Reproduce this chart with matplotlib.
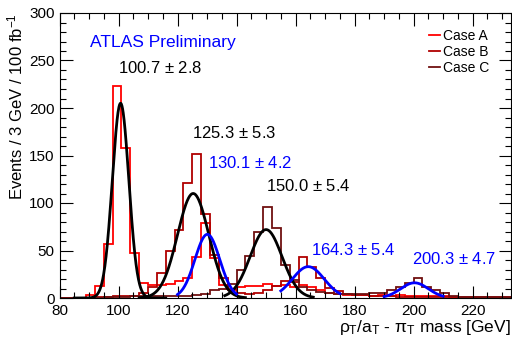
import numpy as np
import matplotlib
matplotlib.use("Agg")
import matplotlib.pyplot as plt
from matplotlib.ticker import MultipleLocator

plt.rcParams['font.family'] = ['Liberation Sans', 'DejaVu Sans']
plt.rcParams['mathtext.fontset'] = 'custom'
plt.rcParams['mathtext.rm'] = 'Liberation Sans'
plt.rcParams['mathtext.it'] = 'Liberation Sans'

# Histogram binning: 3 GeV bins from 80 to 233
bin_edges = np.arange(80, 234, 3)

case_a = [0, 0, 0, 3, 13, 57, 223, 158, 47, 16, 14, 14, 15, 18, 21, 43, 79, 42, 14, 8,
          12, 13, 13, 15, 13, 14, 12, 14, 12, 8, 5, 4, 3, 3, 3, 2, 3, 2, 3, 2,
          2, 2, 2, 2, 1, 1, 1, 1, 1, 1, 1]
case_b = [0, 0, 0, 0, 1, 1, 2, 2, 2, 5, 12, 26, 49, 72, 121, 152, 88, 45, 21, 10,
          5, 4, 5, 8, 13, 18, 17, 43, 33, 21, 11, 7, 4, 3, 3, 2, 2, 2, 1, 1,
          1, 1, 1, 1, 1, 0, 0, 0, 0, 0, 0]
case_c = [0, 0, 0, 0, 0, 1, 1, 1, 2, 2, 2, 2, 2, 2, 2, 3, 4, 8, 10, 15,
          30, 44, 70, 96, 74, 35, 19, 12, 8, 6, 5, 4, 4, 4, 4, 5, 5, 8, 12, 16,
          21, 12, 8, 5, 2, 1, 1, 1, 1, 1, 1]

labels = ["Case A", "Case B", "Case C"]
colors = ["#ff0000", "#b00000", "#701010"]

# Gaussian fits: mean, sigma, amplitude, fit range, colour
fit_mean = [100.7, 125.3, 150.0, 130.1, 164.3, 200.3]
fit_sigma = [2.8, 5.3, 5.4, 4.2, 5.4, 4.7]
fit_amp = [205, 110, 72, 67, 33, 16]
fit_lo = [85, 107, 136, 120, 155, 190]
fit_hi = [116, 143, 166, 140, 175, 210]
fit_color = ["black", "black", "black", "blue", "blue", "blue"]
fit_text_pos = [(118, 68), (192, 133), (266, 186), (208, 163), (311, 250), (412, 259)]

W, H = 512, 341
fig = plt.figure(figsize=(W / 100, H / 100), dpi=100)
ax = fig.add_axes([59.5 / W, 1 - 298 / H, (511 - 59.5) / W, (298 - 13) / H])

for vals, lab, col in zip([case_a, case_b, case_c], labels, colors):
    ax.stairs(vals, bin_edges, color=col, lw=1.3, label=lab)

for m, s, a, lo, hi, c in zip(fit_mean, fit_sigma, fit_amp, fit_lo, fit_hi, fit_color):
    xs = np.linspace(lo, hi, 300)
    ax.plot(xs, a * np.exp(-0.5 * ((xs - m) / s) ** 2), color=c, lw=2)

for m, s, c, (px, py) in zip(fit_mean, fit_sigma, fit_color, fit_text_pos):
    fig.text(px / W, 1 - py / H, f"{m:.1f} $\\pm$ {s:.1f}", color=c, fontsize=12,
             ha="left", va="center")

fig.text(90 / W, 1 - 43 / H, "ATLAS Preliminary", color="blue", fontsize=12.5,
         ha="left", va="center")

ax.set_xlim(80, 233)
ax.set_ylim(0, 300)
ax.xaxis.set_major_locator(MultipleLocator(20))
ax.xaxis.set_minor_locator(MultipleLocator(5))
ax.yaxis.set_major_locator(MultipleLocator(50))
ax.yaxis.set_minor_locator(MultipleLocator(10))
ax.tick_params(which="both", direction="in", top=True, right=True, labelsize=11,
               width=0.8)
ax.tick_params(which="major", length=9)
ax.tick_params(which="minor", length=4.5)
ax.tick_params(axis="x", pad=4)
for sp in ax.spines.values():
    sp.set_linewidth(0.8)

ax.set_xlabel("$\\rho_T/a_T$ - $\\pi_T$ mass [GeV]", fontsize=12.5, loc="right",
              labelpad=0)
ax.set_ylabel("Events / 3 GeV / 100 fb$^{-1}$", fontsize=12, loc="top", labelpad=3)

leg = ax.legend(loc="upper right", bbox_to_anchor=(495 / W, 1 - 23 / H),
                bbox_transform=fig.transFigure, frameon=False, fontsize=10,
                handlelength=0.8, handletextpad=0.2, labelspacing=0.15,
                borderaxespad=0)

fig.savefig("out.png", dpi=100)
